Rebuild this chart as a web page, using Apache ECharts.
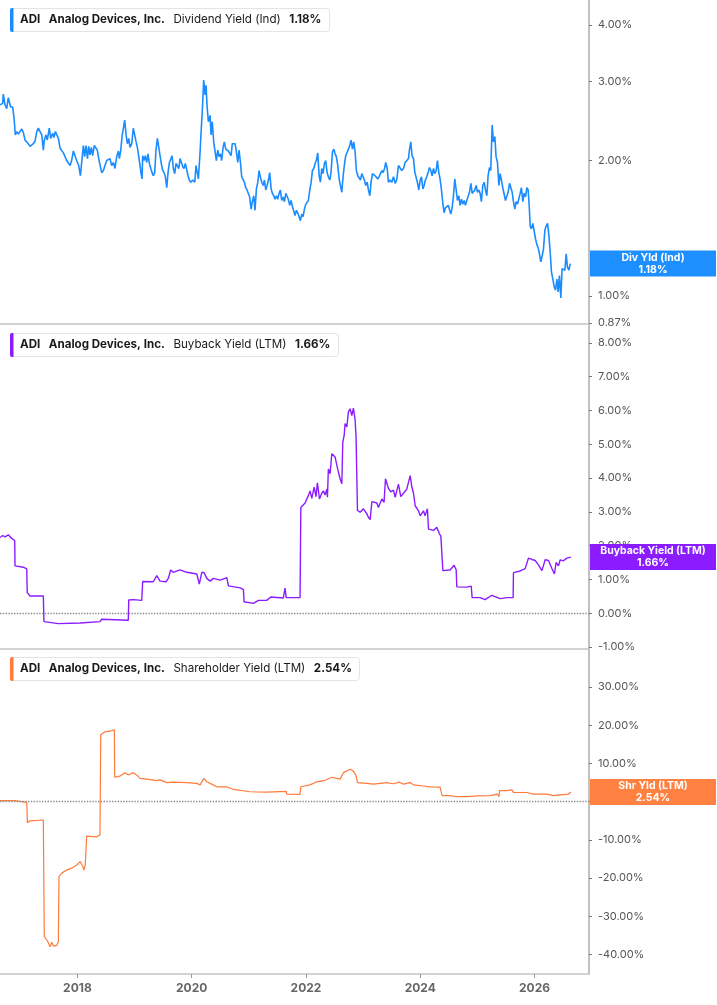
<!DOCTYPE html>
<html>
<head>
<meta charset="utf-8">
<title>ADI - yields</title>
<script src="https://cdn.jsdelivr.net/npm/echarts@6.0.0/dist/echarts.min.js"></script>
<style>
html, body { margin: 0; padding: 0; background: #fff; }
#chart { width: 717px; height: 1005px; }
</style>
</head>
<body>
<div id="chart"></div>
<script>
// ---- data ----
var divYield = [
['2016-08-24',2.66],['2016-09-10',2.68],['2016-09-14',2.81],['2016-09-25',2.66],['2016-10-06',2.61],['2016-10-16',2.76],
['2016-10-31',2.63],['2016-11-13',2.63],['2016-11-22',2.48],['2016-11-30',2.28],['2016-12-09',2.32],['2016-12-19',2.29],
['2016-12-30',2.27],['2017-01-10',2.35],['2017-01-20',2.31],['2017-01-31',2.22],['2017-02-11',2.24],['2017-02-21',2.18],
['2017-03-04',2.15],['2017-03-25',2.18],['2017-04-05',2.21],['2017-04-16',2.32],['2017-04-26',2.36],['2017-05-07',2.32],
['2017-05-18',2.28],['2017-05-28',2.11],['2017-06-03',2.22],['2017-06-14',2.28],['2017-06-22',2.22],['2017-07-05',2.36],
['2017-07-14',2.24],['2017-07-27',2.30],['2017-08-04',2.25],['2017-08-13',2.32],['2017-09-01',2.24],['2017-09-12',2.13],
['2017-10-03',2.08],['2017-10-24',2.00],['2017-11-15',1.95],['2017-11-25',2.00],['2017-12-06',2.10],['2017-12-17',2.11],
['2017-12-27',2.00],['2018-01-09',1.95],['2018-01-20',1.85],['2018-01-28',1.98],['2018-02-08',2.16],['2018-02-16',2.04],
['2018-02-25',2.16],['2018-03-06',2.02],['2018-03-14',2.15],['2018-03-22',2.06],['2018-03-31',2.14],['2018-04-08',2.05],
['2018-04-19',2.16],['2018-04-30',2.18],['2018-05-08',2.11],['2018-05-17',2.02],['2018-05-25',2.04],['2018-06-05',1.88],
['2018-06-16',1.90],['2018-06-26',1.95],['2018-07-07',2.00],['2018-07-18',1.98],['2018-07-28',2.02],['2018-08-08',1.95],
['2018-08-19',1.98],['2018-08-29',1.92],['2018-09-09',2.04],['2018-09-20',2.10],['2018-09-26',2.02],['2018-10-05',2.11],
['2018-10-13',2.26],['2018-10-22',2.28],['2018-10-30',2.46],['2018-11-08',2.28],['2018-11-16',2.18],['2018-11-25',2.24],
['2018-12-03',2.14],['2018-12-14',2.18],['2018-12-24',2.36],['2019-01-02',2.38],['2019-01-11',2.20],['2019-01-19',2.14],
['2019-01-28',2.04],['2019-02-05',1.95],['2019-02-12',1.87],['2019-02-18',1.82],['2019-02-22',2.05],['2019-03-03',2.00],
['2019-03-11',2.05],['2019-03-20',1.98],['2019-03-28',2.07],['2019-04-06',1.97],['2019-04-15',1.92],['2019-04-23',1.88],
['2019-05-01',1.85],['2019-05-10',1.88],['2019-05-18',2.11],['2019-05-27',2.24],['2019-06-05',2.14],['2019-06-13',2.05],
['2019-06-21',1.97],['2019-06-30',1.90],['2019-07-09',1.88],['2019-07-17',1.84],['2019-07-26',1.74],['2019-08-03',1.88],
['2019-08-12',1.98],['2019-08-20',1.97],['2019-08-29',2.05],['2019-09-06',1.92],['2019-09-15',1.87],['2019-09-23',1.97],
['2019-10-02',1.99],['2019-10-11',1.92],['2019-10-19',2.02],['2019-10-27',2.04],['2019-11-05',1.94],['2019-11-13',1.92],
['2019-11-22',1.97],['2019-12-01',1.96],['2019-12-09',1.85],['2019-12-17',1.81],['2019-12-26',1.79],['2020-01-08',1.81],
['2020-01-21',1.79],['2020-01-29',1.95],['2020-02-13',1.82],['2020-02-24',2.09],['2020-03-01',2.30],['2020-03-10',2.61],
['2020-03-18',3.02],['2020-03-27',2.80],['2020-04-02',2.94],['2020-04-09',2.63],['2020-04-17',2.44],['2020-04-28',2.52],
['2020-05-04',2.28],['2020-05-12',2.44],['2020-05-21',2.20],['2020-05-30',2.22],['2020-06-07',2.00],['2020-06-16',2.11],
['2020-06-24',2.04],['2020-07-03',2.07],['2020-07-11',2.00],['2020-07-20',2.14],['2020-07-28',2.20],['2020-08-06',2.12],
['2020-08-23',2.10],['2020-09-09',2.05],['2020-09-17',2.18],['2020-10-05',2.18],['2020-10-13',2.09],['2020-10-22',1.98],
['2020-10-30',2.11],['2020-11-08',1.98],['2020-11-16',1.84],['2020-12-03',1.79],['2020-12-12',1.74],['2020-12-20',1.72],
['2020-12-29',1.73],['2021-01-06',1.66],['2021-01-15',1.56],['2021-01-23',1.62],['2021-02-01',1.67],['2021-02-09',1.55],
['2021-02-18',1.73],['2021-02-27',1.79],['2021-03-07',1.90],['2021-03-15',1.84],['2021-03-24',1.79],['2021-04-02',1.76],
['2021-04-10',1.81],['2021-04-19',1.72],['2021-04-27',1.76],['2021-05-06',1.81],['2021-05-14',1.88],['2021-05-23',1.73],
['2021-05-31',1.69],['2021-06-09',1.67],['2021-06-17',1.64],['2021-06-26',1.67],['2021-07-04',1.64],['2021-07-13',1.69],
['2021-07-21',1.72],['2021-07-30',1.63],['2021-08-08',1.66],['2021-08-16',1.62],['2021-08-25',1.69],['2021-09-02',1.70],
['2021-09-10',1.64],['2021-09-19',1.59],['2021-09-28',1.63],['2021-10-06',1.58],['2021-10-15',1.58],['2021-10-23',1.51],
['2021-11-01',1.55],['2021-11-09',1.53],['2021-11-18',1.50],['2021-11-26',1.47],['2021-12-05',1.52],['2021-12-13',1.50],
['2021-12-22',1.56],['2021-12-31',1.60],['2022-01-08',1.59],['2022-01-16',1.63],['2022-01-25',1.72],['2022-02-03',1.79],
['2022-02-11',1.90],['2022-02-20',1.92],['2022-02-28',1.97],['2022-03-08',2.00],['2022-03-17',2.08],['2022-03-26',1.85],
['2022-04-03',1.79],['2022-04-12',1.92],['2022-04-20',1.87],['2022-04-29',1.97],['2022-05-07',2.00],['2022-05-16',1.88],
['2022-05-24',1.84],['2022-06-02',1.81],['2022-06-10',1.88],['2022-06-19',2.09],['2022-06-28',2.12],['2022-07-06',2.07],
['2022-07-14',2.04],['2022-07-23',1.95],['2022-08-01',1.82],['2022-08-09',1.76],['2022-08-18',1.70],['2022-08-26',1.84],
['2022-09-03',1.95],['2022-09-12',2.05],['2022-09-21',2.04],['2022-09-29',2.12],['2022-10-08',2.16],['2022-10-16',2.22],
['2022-10-25',2.12],['2022-11-02',2.20],['2022-11-11',2.09],['2022-11-19',1.90],['2022-11-28',1.85],['2022-12-06',1.84],
['2022-12-15',1.81],['2022-12-24',1.87],['2023-01-01',1.88],['2023-01-09',1.81],['2023-01-18',1.76],['2023-01-27',1.79],
['2023-02-04',1.72],['2023-02-13',1.67],['2023-02-21',1.79],['2023-03-02',1.87],['2023-03-10',1.88],['2023-03-19',1.85],
['2023-04-05',1.82],['2023-04-13',1.84],['2023-04-22',1.87],['2023-05-01',1.90],['2023-05-09',1.88],['2023-05-18',1.92],
['2023-05-26',1.98],['2023-06-04',1.92],['2023-06-12',1.79],['2023-06-21',1.81],['2023-07-04',1.79],['2023-07-14',1.84],
['2023-07-25',1.78],['2023-08-04',1.81],['2023-08-15',1.95],['2023-08-26',1.97],['2023-09-05',1.90],['2023-09-16',1.92],
['2023-09-27',1.98],['2023-10-07',1.97],['2023-10-18',2.02],['2023-10-24',2.11],['2023-11-02',2.20],['2023-11-10',2.05],
['2023-11-19',2.02],['2023-11-28',1.88],['2023-12-06',1.88],['2023-12-14',1.79],['2023-12-23',1.72],['2024-01-01',1.81],
['2024-01-09',1.84],['2024-01-18',1.73],['2024-01-26',1.76],['2024-02-03',1.81],['2024-02-12',1.84],['2024-02-21',1.88],
['2024-02-29',1.93],['2024-03-09',1.90],['2024-03-17',1.85],['2024-03-26',1.92],['2024-04-03',1.87],['2024-04-12',1.90],
['2024-04-20',2.00],['2024-04-29',1.88],['2024-05-07',1.82],['2024-05-16',1.72],['2024-05-25',1.60],['2024-06-02',1.53],
['2024-06-10',1.57],['2024-06-19',1.56],['2024-06-28',1.59],['2024-07-06',1.60],['2024-07-15',1.52],['2024-07-23',1.57],
['2024-07-31',1.66],['2024-08-09',1.82],['2024-08-18',1.72],['2024-08-26',1.63],['2024-09-04',1.67],['2024-09-12',1.59],
['2024-09-21',1.64],['2024-09-29',1.60],['2024-10-08',1.63],['2024-10-16',1.59],['2024-10-25',1.63],['2024-11-02',1.64],
['2024-11-11',1.70],['2024-11-20',1.78],['2024-11-28',1.69],['2024-12-06',1.70],['2024-12-15',1.72],['2024-12-24',1.76],
['2025-01-01',1.70],['2025-01-10',1.72],['2025-01-18',1.69],['2025-01-26',1.62],['2025-02-04',1.76],['2025-02-13',1.79],
['2025-02-21',1.72],['2025-03-02',1.67],['2025-03-10',1.85],['2025-03-19',1.93],['2025-03-27',1.90],['2025-04-05',2.40],
['2025-04-13',2.20],['2025-04-22',2.26],['2025-04-30',2.04],['2025-05-09',1.98],['2025-05-18',1.76],['2025-05-26',1.87],
['2025-06-03',1.81],['2025-06-12',1.74],['2025-06-21',1.73],['2025-06-29',1.63],['2025-07-08',1.64],['2025-07-16',1.70],
['2025-07-25',1.78],['2025-08-02',1.79],['2025-08-11',1.70],['2025-08-19',1.62],['2025-08-28',1.56],['2025-09-05',1.62],
['2025-09-14',1.60],['2025-09-23',1.60],['2025-10-01',1.69],['2025-10-09',1.74],['2025-10-18',1.62],['2025-10-26',1.69],
['2025-11-04',1.66],['2025-11-13',1.74],['2025-11-21',1.72],['2025-11-29',1.56],['2025-12-04',1.43],['2025-12-12',1.41],
['2025-12-21',1.45],['2025-12-29',1.45],['2026-01-07',1.34],['2026-01-16',1.30],['2026-01-24',1.28],['2026-02-01',1.24],
['2026-02-10',1.19],['2026-02-19',1.23],['2026-02-27',1.27],['2026-03-08',1.40],['2026-03-16',1.43],['2026-03-25',1.45],
['2026-04-02',1.37],['2026-04-11',1.25],['2026-04-19',1.13],['2026-04-28',1.09],['2026-05-06',1.05],['2026-05-15',1.03],
['2026-05-24',1.09],['2026-06-01',1.02],['2026-06-09',1.11],['2026-06-18',0.99],['2026-06-26',1.15],['2026-07-05',1.16],
['2026-07-14',1.14],['2026-07-22',1.24],['2026-07-30',1.16],['2026-08-08',1.14],['2026-08-17',1.18]
];

var buybackYield = [
['2016-08-24',2.24],['2016-09-10',2.30],['2016-09-25',2.26],['2016-10-16',2.32],['2016-11-05',2.22],['2016-11-26',2.15],
['2016-11-28',1.40],['2017-01-20',1.36],['2017-02-11',1.31],['2017-02-14',0.61],['2017-03-04',0.51],['2017-05-28',0.51],
['2017-06-01',-0.25],['2017-09-01',-0.31],['2018-01-18',-0.29],['2018-05-25',-0.25],['2018-06-05',-0.18],['2018-11-22',-0.21],
['2018-11-25',0.39],['2018-12-24',0.40],['2019-02-16',0.38],['2019-02-22',0.94],['2019-05-01',0.93],['2019-05-23',1.11],
['2019-06-13',0.95],['2019-07-21',0.93],['2019-08-05',1.03],['2019-08-20',1.28],['2019-09-06',1.21],['2019-10-19',1.28],
['2019-12-01',1.21],['2020-02-03',1.16],['2020-02-19',0.86],['2020-03-06',1.21],['2020-03-20',1.20],['2020-04-07',1.03],
['2020-04-28',0.95],['2020-05-19',1.03],['2020-07-01',0.98],['2020-08-13',1.05],['2020-08-23',0.81],['2020-11-06',0.75],
['2020-11-27',0.70],['2020-12-01',0.34],['2021-01-30',0.29],['2021-03-03',0.38],['2021-04-25',0.38],['2021-05-21',0.48],
['2021-08-09',0.45],['2021-08-20',0.74],['2021-08-27',0.46],['2021-11-24',0.46],['2021-11-29',3.13],['2021-12-26',3.26],
['2022-01-16',3.48],['2022-01-27',3.62],['2022-02-07',3.40],['2022-02-22',3.73],['2022-03-06',3.45],['2022-03-15',3.86],
['2022-03-28',3.38],['2022-04-12',3.55],['2022-04-22',3.62],['2022-05-03',3.50],['2022-05-14',3.67],['2022-05-18',3.43],
['2022-05-24',4.27],['2022-06-04',4.13],['2022-06-15',4.72],['2022-06-25',4.77],['2022-07-06',4.62],['2022-07-17',4.38],
['2022-07-27',4.18],['2022-08-07',3.98],['2022-08-18',3.83],['2022-08-24',5.06],['2022-09-02',5.26],['2022-09-08',5.61],
['2022-09-19',5.51],['2022-09-29',5.95],['2022-10-10',6.05],['2022-10-21',5.85],['2022-10-31',6.07],['2022-11-11',5.72],
['2022-11-17',5.21],['2022-11-22',5.16],['2022-11-26',3.04],['2022-12-13',2.99],['2023-01-03',3.09],['2023-01-25',2.94],
['2023-02-04',2.84],['2023-02-15',2.77],['2023-02-26',3.30],['2023-03-30',3.26],['2023-04-09',3.13],['2023-05-01',3.38],
['2023-05-15',3.28],['2023-05-24',3.98],['2023-06-12',3.69],['2023-06-27',3.59],['2023-07-14',3.64],['2023-07-25',3.43],
['2023-08-04',3.62],['2023-08-15',3.82],['2023-08-30',3.45],['2023-09-16',3.55],['2023-10-07',3.67],['2023-10-29',4.07],
['2023-11-08',3.75],['2023-11-19',3.55],['2023-11-30',3.18],['2023-12-21',3.03],['2024-01-01',2.88],['2024-01-22',3.03],
['2024-02-01',2.88],['2024-02-16',3.09],['2024-02-23',2.49],['2024-03-26',2.45],['2024-04-16',2.54],['2024-05-03',2.35],
['2024-05-12',2.28],['2024-05-25',1.26],['2024-07-10',1.28],['2024-08-05',1.42],['2024-08-18',1.28],['2024-08-22',0.78],
['2024-10-25',0.77],['2024-11-22',0.80],['2024-11-28',0.46],['2025-01-18',0.46],['2025-02-19',0.40],['2025-04-03',0.53],
['2025-05-26',0.43],['2025-07-08',0.46],['2025-08-17',0.46],['2025-08-19',1.20],['2025-10-01',1.25],['2025-11-02',1.32],
['2025-11-13',1.32],['2025-11-23',1.63],['2025-12-15',1.59],['2026-01-05',1.56],['2026-01-26',1.43],['2026-02-17',1.26],
['2026-03-10',1.58],['2026-03-31',1.56],['2026-04-21',1.33],['2026-05-08',1.16],['2026-05-19',1.50],['2026-06-03',1.40],
['2026-06-14',1.58],['2026-07-05',1.55],['2026-07-26',1.63],['2026-08-06',1.58],['2026-08-21',1.66]
];

var shareholderYield = [
['2016-08-24',0.26],['2016-11-28',0.26],['2016-12-04',-0.16],['2017-02-11',-0.16],['2017-02-15',-5.5],['2017-03-04',-5.0],
['2017-05-28',-4.8],['2017-06-03',-35.3],['2017-06-19',-36.2],['2017-06-29',-36.9],['2017-07-10',-38.0],['2017-07-21',-36.8],
['2017-07-31',-37.8],['2017-08-11',-37.4],['2017-08-22',-37.6],['2017-09-01',-36.6],['2017-09-05',-19.6],['2017-09-23',-18.7],
['2017-10-24',-17.9],['2017-11-25',-17.4],['2017-12-27',-16.6],['2018-01-18',-15.7],['2018-02-04',-16.9],['2018-02-12',-17.9],
['2018-02-20',-16.6],['2018-03-01',-9.0],['2018-05-04',-9.2],['2018-05-25',-8.7],['2018-05-30',17.5],['2018-06-26',18.3],
['2018-07-18',18.4],['2018-08-08',18.6],['2018-08-25',18.8],['2018-08-27',6.4],['2018-09-30',6.7],['2018-11-01',7.6],
['2018-11-22',7.0],['2018-12-24',7.6],['2019-01-15',7.0],['2019-02-05',6.1],['2019-03-20',5.9],['2019-05-23',5.5],
['2019-06-13',5.7],['2019-07-26',5.0],['2019-09-06',5.1],['2019-12-01',5.0],['2020-02-03',4.8],['2020-02-24',4.4],
['2020-03-20',6.1],['2020-04-07',5.2],['2020-04-28',4.8],['2020-06-10',3.9],['2020-08-13',3.9],['2020-09-24',3.2],
['2021-01-09',2.6],['2021-04-25',2.5],['2021-08-27',2.7],['2021-08-31',2.0],['2021-11-24',1.9],['2021-11-29',3.9],
['2022-01-27',4.4],['2022-03-11',5.2],['2022-05-03',5.6],['2022-06-15',6.4],['2022-06-25',6.7],['2022-08-07',5.9],
['2022-08-28',7.6],['2022-10-10',8.5],['2022-10-31',8.0],['2022-11-17',6.9],['2022-11-26',5.0],['2023-01-25',4.8],
['2023-03-08',4.6],['2023-04-20',4.8],['2023-06-02',5.0],['2023-07-14',4.7],['2023-08-21',5.1],['2023-09-16',4.6],
['2023-10-29',5.0],['2023-11-19',4.4],['2024-01-22',4.1],['2024-03-04',3.9],['2024-05-07',3.8],['2024-05-20',1.6],
['2024-07-10',1.6],['2024-08-22',1.3],['2024-10-25',1.3],['2024-12-28',1.5],['2025-03-23',1.6],['2025-05-09',2.0],
['2025-05-18',1.3],['2025-05-22',2.9],['2025-07-08',2.9],['2025-08-09',3.1],['2025-08-19',2.4],['2025-11-13',2.4],
['2025-12-25',2.0],['2026-03-20',2.0],['2026-05-02',1.6],['2026-06-14',1.8],['2026-08-06',2.0],['2026-08-21',2.54]
];

var latestDiv = 1.18, latestBuyback = 1.66, latestShareholder = 2.54;
var yearTicks = ['2018-01-01', '2020-01-01', '2022-01-01', '2024-01-01', '2026-01-01'];
var divTicks = [0.87, 1, 2, 3, 4];
var buybackTicks = [-1, 0, 1, 2, 3, 4, 5, 6, 7, 8];
var shareholderTicks = [-40, -30, -20, -10, 0, 10, 20, 30];

// ---- look ----
var FONT = 'Inter, "Noto Sans", sans-serif';
var BLUE = '#1a8cff', PURPLE = '#8b1cff', ORANGE = '#ff7b3b';

// dates -> timestamps (UTC) for a plain value axis
function ts(d) { return Date.parse(d); }
function toPoints(rows) { return rows.map(function (r) { return [ts(r[0]), r[1]]; }); }
var xMin = ts('2016-08-24'), xMax = ts('2026-12-15');
var yearTickValues = yearTicks.map(ts);

var chart = echarts.init(document.getElementById('chart'));

function pct(v) { return Number(v).toFixed(2) + '%'; }

function xAxisFor(i, withLabels) {
    return {
        type: 'value', gridIndex: i, min: xMin, max: xMax,
        axisLine: { show: true, onZero: false, lineStyle: { color: '#c4c4c4', width: 1.5 } },
        axisTick: { show: withLabels, length: 4, customValues: yearTickValues, lineStyle: { color: '#999' } },
        axisLabel: {
            show: withLabels, customValues: yearTickValues, margin: 8,
            formatter: function (v) { return new Date(v).getUTCFullYear() + ''; },
            color: '#666', fontWeight: 'bold', fontSize: 12, fontFamily: FONT
        },
        splitLine: { show: false }
    };
}

function yAxisFor(i, type, min, max, ticks) {
    return {
        type: type, gridIndex: i, position: 'right', min: min, max: max,
        axisLine: { show: true, onZero: false, lineStyle: { color: '#adadad', width: 1.5 } },
        axisTick: { show: true, length: 3, customValues: ticks, lineStyle: { color: '#777' } },
        axisLabel: { customValues: ticks, formatter: pct, margin: 9, color: '#555', fontSize: 11, fontFamily: FONT },
        splitLine: { show: false }
    };
}

// right-hand value tag, hung on the latest value
function endTag(value, name, color) {
    return {
        yAxis: value,
        lineStyle: { color: 'rgba(0,0,0,0)', width: 0 },
        label: {
            show: true, position: 'end', distance: 1,
            formatter: '{t|' + name + '}\n{t|' + pct(value) + '}',
            backgroundColor: color, padding: [1, 0, 1, 0],
            rich: { t: { width: 126, align: 'center', color: '#fff', fontWeight: 'bold', fontSize: 10.5, lineHeight: 12, fontFamily: FONT } }
        }
    };
}

var zeroLine = { yAxis: 0, lineStyle: { color: '#8c8c8c', type: 'dotted', width: 1.4 }, label: { show: false } };

// boxed series caption in the top-left corner of each panel
function caption(top, color, metric, value) {
    var txt = { fontFamily: FONT, fontSize: 11.6, color: '#1a1a1a', lineHeight: 24 };
    return {
        left: 10, top: top, padding: [0, 8, 0, 0],
        backgroundColor: '#fff', borderColor: '#e4e4e4', borderWidth: 1, borderRadius: 3,
        text: '{bar| }{s0| }{b|ADI}{s| }{b|Analog Devices, Inc.}{s| }{n|' + metric + '}{s| }{b|' + pct(value) + '}',
        textStyle: {
            rich: {
                bar: { width: 3.5, height: 24, backgroundColor: color, borderRadius: [2, 0, 0, 2] },
                s0: { width: 6.5 },
                s: { width: 8.5 },
                b: echarts.util.extend({ fontWeight: 'bold' }, txt),
                n: echarts.util.extend({ fontWeight: 'normal' }, txt)
            }
        }
    };
}

var option = {
    animation: false,
    backgroundColor: '#fff',
    title: [
        caption(8, BLUE, 'Dividend Yield (Ind)', latestDiv),
        caption(333, PURPLE, 'Buyback Yield (LTM)', latestBuyback),
        caption(657, ORANGE, 'Shareholder Yield (LTM)', latestShareholder)
    ],
    grid: [
        { left: 0, right: 128, top: 0, height: 324 },
        { left: 0, right: 128, top: 325, height: 324 },
        { left: 0, right: 128, top: 650, height: 324 }
    ],
    xAxis: [xAxisFor(0, false), xAxisFor(1, false), xAxisFor(2, true)],
    yAxis: [
        yAxisFor(0, 'log', 0.866, 4.55, divTicks),
        yAxisFor(1, 'value', -1.06, 8.53, buybackTicks),
        yAxisFor(2, 'value', -45.1, 39.7, shareholderTicks)
    ],
    series: [
        {
            name: 'Dividend Yield (Ind)', type: 'line', xAxisIndex: 0, yAxisIndex: 0,
            data: toPoints(divYield), symbol: 'none', lineStyle: { color: BLUE, width: 1.6 },
            markLine: { silent: true, symbol: ['none', 'none'], data: [endTag(latestDiv, 'Div Yld (Ind)', '#1e8fff')] }
        },
        {
            name: 'Buyback Yield (LTM)', type: 'line', xAxisIndex: 1, yAxisIndex: 1,
            data: toPoints(buybackYield), symbol: 'none', lineStyle: { color: PURPLE, width: 1.4 },
            markLine: { silent: true, symbol: ['none', 'none'], data: [zeroLine, endTag(latestBuyback, 'Buyback Yield (LTM)', '#8b1cff')] }
        },
        {
            name: 'Shareholder Yield (LTM)', type: 'line', xAxisIndex: 2, yAxisIndex: 2,
            data: toPoints(shareholderYield), symbol: 'none', lineStyle: { color: ORANGE, width: 1.2 },
            markLine: { silent: true, symbol: ['none', 'none'], data: [zeroLine, endTag(latestShareholder, 'Shr Yld (LTM)', '#ff8142')] }
        }
    ]
};

chart.setOption(option);
</script>
</body>
</html>
